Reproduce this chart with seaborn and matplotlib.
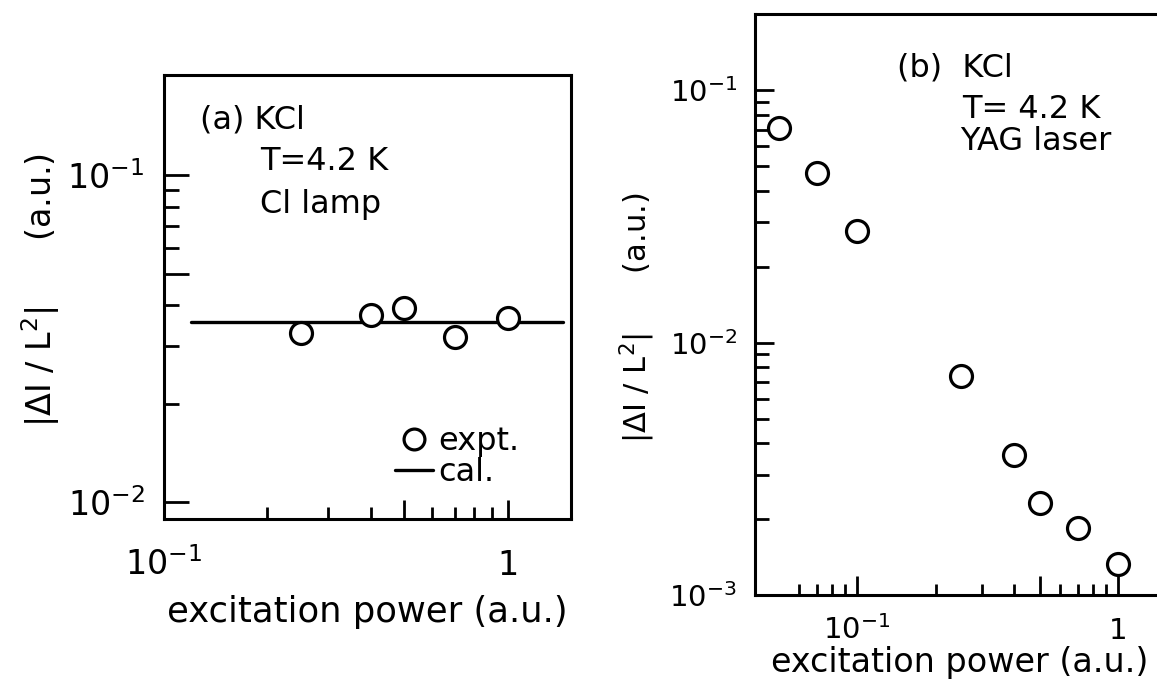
import matplotlib
matplotlib.use("Agg")
import matplotlib.pyplot as plt
from matplotlib.ticker import FixedLocator, NullFormatter
from matplotlib.lines import Line2D
import seaborn as sns
import pandas as pd

# ---------------- data ----------------
# panel (a): KCl, T=4.2 K, Cl lamp
a_power = [0.25, 0.4, 0.5, 0.7, 1.0]
a_signal = [0.0329, 0.0373, 0.0392, 0.0320, 0.0366]
a_cal_power = [0.12, 1.45]
a_cal_signal = [0.0355, 0.0355]

# panel (b): KCl, T=4.2 K, YAG laser
b_power = [0.05, 0.07, 0.1, 0.25, 0.4, 0.5, 0.7, 1.0]
b_signal = [0.0710, 0.0471, 0.0277, 0.00736, 0.00358, 0.00231, 0.00185, 0.00133]

a_xticks = [0.1, 0.5, 1.0]
a_xticklabels = ["$10^{-1}$", "", "1"]
a_yticks = [0.01, 0.05, 0.1]
a_yticklabels = ["$10^{-2}$", "", "$10^{-1}$"]

b_xticks = [0.1, 0.5, 1.0]
b_xticklabels = ["$10^{-1}$", "", "1"]
b_yticks = [0.001, 0.01, 0.1]
b_yticklabels = ["$10^{-3}$", "$10^{-2}$", "$10^{-1}$"]

xlabel = "excitation power (a.u.)"
ylabel = "|ΔI / L$^2$|      (a.u.)"

# ---------------- style ----------------
sns.set_style("ticks")
plt.rcParams["font.family"] = ["DejaVu Sans"]
plt.rcParams["mathtext.fontset"] = "dejavusans"
for key in ["text.color", "axes.labelcolor", "xtick.color", "ytick.color",
            "axes.edgecolor"]:
    plt.rcParams[key] = "black"

W, H = 1157, 684
fig = plt.figure(figsize=(W / 100, H / 100), dpi=100)

def px_axes(l, t, r, b):
    return [l / W, 1 - b / H, (r - l) / W, (b - t) / H]

axA = fig.add_axes(px_axes(164, 75, 571, 519))
axB = fig.add_axes(px_axes(755, 14, 1164, 595))

def minor_list(lo_dec, hi_dec, skip5=False):
    vals = []
    for d in range(lo_dec, hi_dec + 1):
        for m in range(2, 10):
            if skip5 and m == 5:
                continue
            vals.append(m * 10.0 ** d)
    return vals

def style_axis(ax, lw=2.2):
    for s in ax.spines.values():
        s.set_linewidth(lw)
        s.set_color("black")
    ax.set_xscale("log")
    ax.set_yscale("log")

# ---------------- panel (a) ----------------
style_axis(axA)
dfA = pd.DataFrame({"power": a_power, "signal": a_signal})
dfAc = pd.DataFrame({"power": a_cal_power, "signal": a_cal_signal})
sns.lineplot(data=dfAc, x="power", y="signal", ax=axA, color="black",
             linewidth=2.4, zorder=2, legend=False)
sns.scatterplot(data=dfA, x="power", y="signal", ax=axA, marker="o", s=250,
                facecolor="white", edgecolor="black", linewidth=2.3, zorder=3,
                legend=False)
axA.set_xlim(0.1, 1.527)
axA.set_ylim(0.00887, 0.2025)

axA.xaxis.set_major_locator(FixedLocator(a_xticks))
axA.xaxis.set_minor_locator(FixedLocator(minor_list(-1, -1, True)))
axA.yaxis.set_major_locator(FixedLocator(a_yticks))
axA.yaxis.set_minor_locator(FixedLocator(minor_list(-2, -2, True)))
axA.xaxis.set_minor_formatter(NullFormatter())
axA.yaxis.set_minor_formatter(NullFormatter())
axA.set_xticks(a_xticks, a_xticklabels, va="baseline")
axA.set_yticks(a_yticks, a_yticklabels)
axA.tick_params(axis="x", which="major", direction="in", length=14, width=2,
                pad=40, labelsize=24, top=False, bottom=True)
axA.tick_params(axis="x", which="minor", direction="in", length=9, width=2,
                top=False, bottom=True)
axA.tick_params(axis="y", which="major", direction="in", length=18, width=2,
                pad=14, labelsize=24, right=False, left=True)
axA.tick_params(axis="y", which="minor", direction="in", length=10.5, width=2,
                right=False, left=True)

axA.set_xlabel(xlabel, fontsize=25.5, va="baseline")
axA.xaxis.set_label_coords(0.5, -0.232)
axA.set_ylabel(ylabel, fontsize=24)
axA.yaxis.set_label_coords(-0.2506, 0.5158)

txt_kw = dict(transform=axA.transAxes, fontsize=23, va="baseline", ha="left")
axA.text(0.0885, 0.8806, "(a) KCl", **txt_kw)
axA.text(0.2359, 0.786, "T=4.2 K", **txt_kw)
axA.text(0.2359, 0.689, "Cl lamp", **txt_kw)

handles = [
    Line2D([], [], marker="o", linestyle="none", markersize=15,
           markerfacecolor="white", markeredgecolor="black", markeredgewidth=2.3),
    Line2D([], [], color="black", linewidth=2.4),
]
axA.legend(handles, ["expt.", "cal."], loc="lower right",
           bbox_to_anchor=(0.872, 0.07), frameon=False, fontsize=23,
           handlelength=1.2, handletextpad=0.15, labelspacing=0.0,
           borderpad=0, borderaxespad=0)

# ---------------- panel (b) ----------------
style_axis(axB)
dfB = pd.DataFrame({"power": b_power, "signal": b_signal})
sns.scatterplot(data=dfB, x="power", y="signal", ax=axB, marker="o", s=250,
                facecolor="white", edgecolor="black", linewidth=2.3, zorder=3,
                legend=False, clip_on=False)
axB.set_xlim(0.0406, 1.5)
axB.set_ylim(0.001, 0.201)

axB.xaxis.set_major_locator(FixedLocator(b_xticks))
axB.xaxis.set_minor_locator(FixedLocator(minor_list(-2, -1, True)))
axB.yaxis.set_major_locator(FixedLocator(b_yticks))
axB.yaxis.set_minor_locator(FixedLocator(minor_list(-3, -2)))
axB.xaxis.set_minor_formatter(NullFormatter())
axB.yaxis.set_minor_formatter(NullFormatter())
axB.set_xticks(b_xticks, b_xticklabels, va="baseline")
axB.set_yticks(b_yticks, b_yticklabels)
axB.tick_params(axis="x", which="major", direction="in", length=14, width=2,
                pad=32, labelsize=21, top=False, bottom=True)
axB.tick_params(axis="x", which="minor", direction="in", length=8, width=2,
                top=False, bottom=True)
axB.tick_params(axis="y", which="major", direction="in", length=13.5, width=2,
                pad=13, labelsize=21, right=False, left=True)
axB.tick_params(axis="y", which="minor", direction="in", length=10, width=2,
                right=False, left=True)

axB.set_xlabel(xlabel, fontsize=24, va="baseline")
axB.xaxis.set_label_coords(0.5, -0.1325)
axB.set_ylabel(ylabel, fontsize=22)
axB.yaxis.set_label_coords(-0.2396, 0.4768)

txt_kw = dict(transform=axB.transAxes, fontsize=23, va="baseline", ha="left")
axB.text(0.347, 0.8916, "(b)  KCl", **txt_kw)
axB.text(0.506, 0.821, "T= 4.2 K", **txt_kw)
axB.text(0.501, 0.766, "YAG laser", **txt_kw)

fig.savefig("out.png", dpi=100, facecolor="white")
